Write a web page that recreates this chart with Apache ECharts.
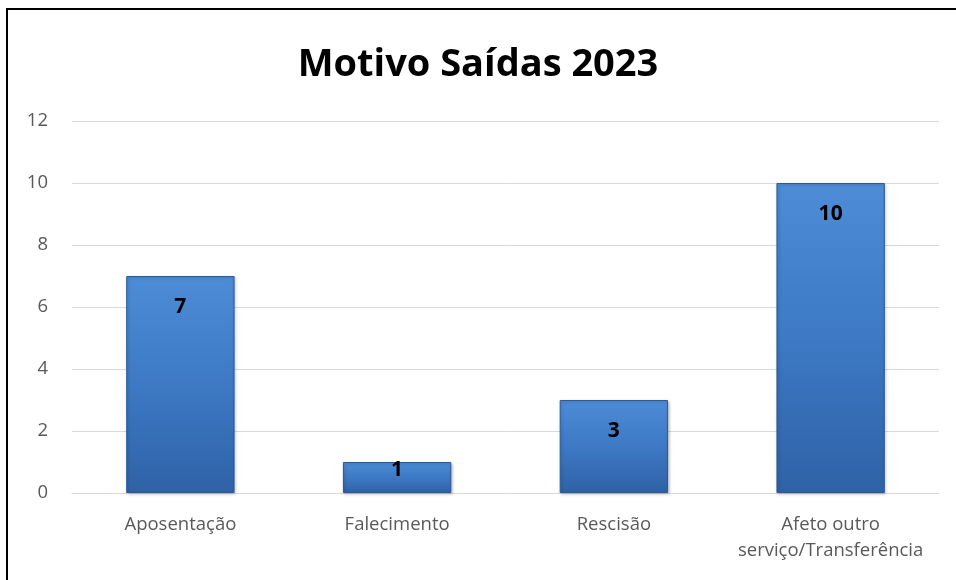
<!DOCTYPE html>
<html>
<head>
<meta charset="utf-8">
<script src="https://cdn.jsdelivr.net/npm/echarts@6/dist/echarts.min.js"></script>
<style>
  html, body { margin: 0; padding: 0; background: #fff; }
  #chart { width: 956px; height: 580px; }
  #frame { position: absolute; left: 6px; top: 8px; width: 960px; height: 600px;
           border-left: 2px solid #000; border-top: 2px solid #000; pointer-events: none; }
</style>
</head>
<body>
<div id="chart"></div>
<div id="frame"></div>
<script>
const title = 'Motivo Saídas 2023';
const categories = ['Aposentação', 'Falecimento', 'Rescisão', 'Afeto outro\nserviço/Transferência'];
const values = [7, 1, 3, 10];
const yTicks = { min: 0, max: 12, interval: 2 };

const font = '"Open Sans", "Noto Sans", sans-serif';

const barFill = new echarts.graphic.LinearGradient(0, 0, 0, 1, [
  { offset: 0, color: '#4d8cd6' },
  { offset: 0.5, color: '#3d79c5' },
  { offset: 1, color: '#2f62a6' }
]);

// short bars: Excel lets the label ride over the bar top
const barData = values.map((v) => (
  v < 2 ? { value: v, label: { distance: -2 } } : v
));

const chart = echarts.init(document.getElementById('chart'));
chart.setOption({
  backgroundColor: '#fff',
  animation: false,
  title: {
    text: title,
    left: 'center',
    top: 41,
    textStyle: { fontFamily: font, fontSize: 38, fontWeight: 'bold', color: '#000' }
  },
  grid: { left: 72, right: 17, top: 121, bottom: 87 },
  xAxis: {
    type: 'category',
    data: categories,
    axisLine: { lineStyle: { color: '#d9d9d9', width: 1 } },
    axisTick: { show: false },
    axisLabel: {
      interval: 0,
      hideOverlap: false,
      color: '#595959', fontFamily: font, fontSize: 18.5, margin: 19, lineHeight: 26
    }
  },
  yAxis: {
    type: 'value',
    min: yTicks.min,
    max: yTicks.max,
    interval: yTicks.interval,
    axisLine: { show: false },
    axisTick: { show: false },
    splitLine: { lineStyle: { color: '#d9d9d9', width: 1 } },
    axisLabel: { color: '#595959', fontFamily: font, fontSize: 18.5, margin: 24 }
  },
  series: [{
    type: 'bar',
    data: barData,
    barWidth: '50%',
    itemStyle: {
      color: barFill,
      borderColor: '#2a5a98',
      borderWidth: 1,
      shadowColor: 'rgba(0,0,0,0.25)',
      shadowBlur: 3,
      shadowOffsetX: 1,
      shadowOffsetY: 1
    },
    label: {
      show: true,
      position: 'insideTop',
      distance: 21,
      color: '#000',
      fontFamily: font,
      fontSize: 21,
      fontWeight: 'bold'
    }
  }]
});
</script>
</body>
</html>
